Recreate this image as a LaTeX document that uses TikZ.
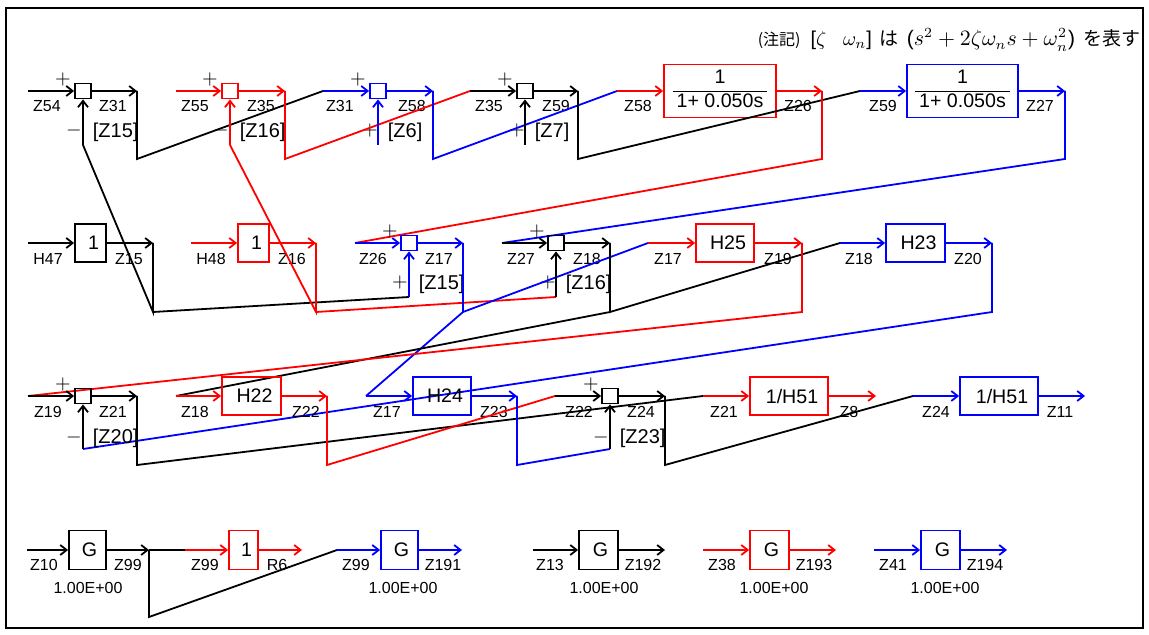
\documentclass[tikz,border=0pt]{standalone}
\usepackage{fontspec}
\setmainfont{Liberation Sans}
\newfontfamily\jpfont{Noto Sans CJK JP}
\usetikzlibrary{arrows.meta}
\definecolor{sigRed}{HTML}{FF0000}
\definecolor{sigBlue}{HTML}{0000FF}

\begin{document}
\begin{tikzpicture}[x=0.5pt,y=-0.5pt,line width=0.9pt,>={Straight Barb[length=3.2pt,width=5pt]},
  lbl/.style={font=\fontsize{8}{9}\selectfont,inner sep=0pt},
  tag/.style={font=\fontsize{10}{11}\selectfont,inner sep=0pt,anchor=west},
  sgn/.style={font=\fontsize{10}{11}\selectfont,inner sep=0pt},
  sumbox/.style={draw,minimum width=8pt,minimum height=7.5pt,inner sep=0pt},
  blk/.style={draw,inner sep=0pt,minimum height=19pt,font=\fontsize{9.8}{11.6}\selectfont},
  gbox/.style={blk,minimum width=18.5pt,minimum height=19.5pt}]
\useasboundingbox (0,0) rectangle (1149,635);
\draw[line width=0.8pt] (6,8) rectangle (1143,628);
% note
\node[anchor=east,inner sep=0pt] (note) at (1141,40) {{\jpfont\fontsize{8}{9}\selectfont (注記)}\hspace{5pt}{\fontsize{10}{11}\selectfont[$\zeta\;\;\;\omega_n$]}\hspace{4pt}{\jpfont\fontsize{9.5}{10}\selectfont は}\hspace{4pt}{\fontsize{10.5}{11}\selectfont($s^2+2\zeta\omega_n s+\omega_n^2$)}\hspace{4pt}{\jpfont\fontsize{9.5}{10}\selectfont を表す}};

% row 1 : summing points and lags
\node[sumbox] (s1) at (83,91) {};
\node[sumbox,draw=sigRed] (s2) at (230,91) {};
\node[sumbox,draw=sigBlue] (s3) at (378,91) {};
\node[sumbox] (s4) at (525,91) {};
\node[blk,draw=sigRed,minimum width=56pt,minimum height=26.5pt] (b1) at (720,91) {\begin{tabular}{@{\hspace{2pt}}c@{\hspace{2pt}}}1\\\hline 1+ 0.050s\end{tabular}};
\node[blk,draw=sigBlue,minimum width=55.5pt,minimum height=26.5pt] (b2) at (962.5,91) {\begin{tabular}{@{\hspace{2pt}}c@{\hspace{2pt}}}1\\\hline 1+ 0.050s\end{tabular}};
\coordinate (z54i) at (28,91);   \coordinate (z31o) at (137,91);  \coordinate (z31b) at (137,159);
\coordinate (z55i) at (176,91);  \coordinate (z35o) at (285,91);  \coordinate (z35b) at (285,159);
\coordinate (z31i) at (323,91);  \coordinate (z58o) at (433,91);  \coordinate (z58b) at (433,159);
\coordinate (z35i) at (470,91);  \coordinate (z59o) at (578,91);  \coordinate (z59b) at (578,159);
\coordinate (z58i) at (617,91);  \coordinate (z26o) at (822,91);  \coordinate (z26b) at (822,159);
\coordinate (z59i) at (860,91);  \coordinate (z27o) at (1065,91); \coordinate (z27b) at (1065,159);
\coordinate (fb1) at (83,145);   \coordinate (fb2) at (230,145);
\coordinate (fb3) at (378,145);  \coordinate (fb4) at (525,145);
\node[lbl] (t1a) at (47,106) {Z54};   \node[lbl] (t1b) at (113,106) {Z31};
\node[lbl] (t1c) at (195,106) {Z55};  \node[lbl] (t1d) at (261,106) {Z35};
\node[lbl] (t1e) at (340,106) {Z31};  \node[lbl] (t1f) at (412,106) {Z58};
\node[lbl] (t1g) at (489,106) {Z35};  \node[lbl] (t1h) at (556,106) {Z59};
\node[lbl] (t1i) at (638,106) {Z58};  \node[lbl] (t1j) at (798,106) {Z26};
\node[lbl] (t1k) at (883,106) {Z59};  \node[lbl] (t1l) at (1040,106) {Z27};
\node[sgn] (p1) at (63,80) {$+$};  \node[sgn] (m1) at (74,131) {$-$};  \node[tag] (g1) at (92,132) {[Z15]};
\node[sgn] (p2) at (210,80) {$+$}; \node[sgn] (m2) at (221,131) {$-$}; \node[tag] (g2) at (239,132) {[Z16]};
\node[sgn] (p3) at (358,80) {$+$}; \node[sgn] (m3) at (370,131) {$+$}; \node[tag] (g3) at (387,132) {[Z6]};
\node[sgn] (p4) at (505,80) {$+$}; \node[sgn] (m4) at (517,131) {$+$}; \node[tag] (g4) at (534,132) {[Z7]};
\draw[->] (z54i) -- (s1);
\draw[->] (s1) -- (z31o);
\draw (z31o) -- (z31b) -- (z31i);
\draw[->] (fb1) -- (s1);
\draw[->,sigRed] (z55i) -- (s2);
\draw[->,sigRed] (s2) -- (z35o);
\draw[sigRed] (z35o) -- (z35b) -- (z35i);
\draw[->,sigRed] (fb2) -- (s2);
\draw[->,sigBlue] (z31i) -- (s3);
\draw[->,sigBlue] (s3) -- (z58o);
\draw[sigBlue] (z58o) -- (z58b) -- (z58i);
\draw[->,sigBlue] (fb3) -- (s3);
\draw[->] (z35i) -- (s4);
\draw[->] (s4) -- (z59o);
\draw (z59o) -- (z59b) -- (z59i);
\draw[->] (fb4) -- (s4);
\draw[->,sigRed] (z58i) -- (b1);
\draw[->,sigRed] (b1) -- (z26o);
\draw[sigRed] (z26o) -- (z26b) -- (355,243);
\draw[->,sigBlue] (z59i) -- (b2);
\draw[->,sigBlue] (b2) -- (z27o);
\draw[sigBlue] (z27o) -- (z27b) -- (502,243);

% row 2
\node[blk,minimum width=15.5pt] (k1) at (90.5,243) {\hspace{3pt}1};
\node[blk,draw=sigRed,minimum width=15.5pt] (k2) at (253.5,243) {\hspace{3pt}1};
\node[sumbox,draw=sigBlue] (s5) at (409,243) {};
\node[sumbox] (s6) at (556,243) {};
\node[blk,draw=sigRed,minimum width=29pt] (h25) at (725,243) {\hspace{3pt}H25};
\node[blk,draw=sigBlue,minimum width=29.5pt] (h23) at (915.5,243) {\hspace{3pt}H23};
\coordinate (h47i) at (28,243);  \coordinate (z15o) at (153,243); \coordinate (z15b) at (153,312);
\coordinate (h48i) at (191,243); \coordinate (z16o) at (316,243); \coordinate (z16b) at (316,312);
\coordinate (z26i) at (355,243); \coordinate (z17o) at (463,243); \coordinate (z17b) at (463,312);
\coordinate (z27i) at (502,243); \coordinate (z18o) at (610,243); \coordinate (z18b) at (610,312);
\coordinate (z17i) at (648,243); \coordinate (z19o) at (802,243); \coordinate (z19b) at (802,312);
\coordinate (z18i) at (840,243); \coordinate (z20o) at (992,243); \coordinate (z20b) at (992,312);
\coordinate (fb5) at (409,297);  \coordinate (fb6) at (556,297);
\node[lbl] (t2a) at (48,259) {H47};   \node[lbl] (t2b) at (129,259) {Z15};
\node[lbl] (t2c) at (211,259) {H48};  \node[lbl] (t2d) at (292,259) {Z16};
\node[lbl] (t2e) at (373,259) {Z26};  \node[lbl] (t2f) at (439,259) {Z17};
\node[lbl] (t2g) at (521,259) {Z27};  \node[lbl] (t2h) at (587,259) {Z18};
\node[lbl] (t2i) at (668,259) {Z17};  \node[lbl] (t2j) at (778,259) {Z19};
\node[lbl] (t2k) at (859,259) {Z18};  \node[lbl] (t2l) at (968,259) {Z20};
\node[sgn] (p5) at (390,232) {$+$}; \node[sgn] (m5) at (400,283) {$+$}; \node[tag] (g5) at (418,284) {[Z15]};
\node[sgn] (p6) at (537,232) {$+$}; \node[sgn] (m6) at (548,283) {$+$}; \node[tag] (g6) at (565,284) {[Z16]};
\draw[->] (h47i) -- (k1);
\draw[->] (k1) -- (z15o);
\draw (z15o) -- (z15b) -- (fb1);
\draw (z15b) -- (fb5);
\draw[->,sigRed] (h48i) -- (k2);
\draw[->,sigRed] (k2) -- (z16o);
\draw[sigRed] (z16o) -- (z16b) -- (fb2);
\draw[sigRed] (z16b) -- (fb6);
\draw[->,sigBlue] (z26i) -- (s5);
\draw[->,sigBlue] (s5) -- (z17o);
\draw[sigBlue] (z17o) -- (z17b) -- (z17i);
\draw[sigBlue] (z17b) -- (366,396);
\draw[->,sigBlue] (fb5) -- (s5);
\draw[->] (z27i) -- (s6);
\draw[->] (s6) -- (z18o);
\draw (z18o) -- (z18b) -- (z18i);
\draw (z18b) -- (176,396);
\draw[->] (fb6) -- (s6);
\draw[->,sigRed] (z17i) -- (h25);
\draw[->,sigRed] (h25) -- (z19o);
\draw[sigRed] (z19o) -- (z19b) -- (28,396);
\draw[->,sigBlue] (z18i) -- (h23);
\draw[->,sigBlue] (h23) -- (z20o);
\draw[sigBlue] (z20o) -- (z20b) -- (83,449);

% row 3
\node[sumbox] (s7) at (83,396) {};
\node[blk,draw=sigRed,minimum width=29.5pt] (h22) at (251.5,396) {\hspace{3pt}H22};
\node[blk,draw=sigBlue,minimum width=29pt] (h24) at (442,396) {\hspace{3pt}H24};
\node[sumbox] (s8) at (610,396) {};
\node[blk,draw=sigRed,minimum width=39pt] (r1) at (789,396) {\hspace{3pt}1/H51};
\node[blk,draw=sigBlue,minimum width=39pt] (r2) at (999,396) {\hspace{3pt}1/H51};
\coordinate (z19i) at (28,396);  \coordinate (z21o) at (137,396); \coordinate (z21b) at (137,465);
\coordinate (z18j) at (176,396); \coordinate (z22o) at (327,396); \coordinate (z22b) at (327,465);
\coordinate (z17j) at (366,396); \coordinate (z23o) at (517,396); \coordinate (z23b) at (517,465);
\coordinate (z22i) at (555,396); \coordinate (z24o) at (665,396); \coordinate (z24b) at (665,465);
\coordinate (z21i) at (703,396); \coordinate (z8o) at (876,396);
\coordinate (z24i) at (913,396); \coordinate (z11o) at (1085,396);
\coordinate (fb7) at (83,449);   \coordinate (fb8) at (610,449);
\node[lbl] (t3a) at (48,412) {Z19};   \node[lbl] (t3b) at (113,412) {Z21};
\node[lbl] (t3c) at (195,412) {Z18};  \node[lbl] (t3d) at (306,412) {Z22};
\node[lbl] (t3e) at (387,412) {Z17};  \node[lbl] (t3f) at (494,412) {Z23};
\node[lbl] (t3g) at (579,412) {Z22};  \node[lbl] (t3h) at (641,412) {Z24};
\node[lbl] (t3i) at (724,412) {Z21};  \node[lbl] (t3j) at (849,412) {Z8};
\node[lbl] (t3k) at (936,412) {Z24};  \node[lbl] (t3l) at (1060,412) {Z11};
\node[sgn] (p7) at (63,385) {$+$};  \node[sgn] (m7) at (74,437) {$-$};  \node[tag] (g7) at (92,438) {[Z20]};
\node[sgn] (p8) at (591,385) {$+$}; \node[sgn] (m8) at (601,437) {$-$}; \node[tag] (g8) at (619,438) {[Z23]};
\draw[->] (z19i) -- (s7);
\draw[->] (s7) -- (z21o);
\draw (z21o) -- (z21b) -- (z21i);
\draw[->] (fb7) -- (s7);
\draw[->,sigRed] (z18j) -- (h22);
\draw[->,sigRed] (h22) -- (z22o);
\draw[sigRed] (z22o) -- (z22b) -- (z22i);
\draw[->,sigBlue] (z17j) -- (h24);
\draw[->,sigBlue] (h24) -- (z23o);
\draw[sigBlue] (z23o) -- (z23b) -- (fb8);
\draw[->] (z22i) -- (s8);
\draw[->] (s8) -- (z24o);
\draw (z24o) -- (z24b) -- (z24i);
\draw[->] (fb8) -- (s8);
\draw[->,sigRed] (z21i) -- (r1);
\draw[->,sigRed] (r1) -- (z8o);
\draw[->,sigBlue] (z24i) -- (r2);
\draw[->,sigBlue] (r2) -- (z11o);

% row 4 : gains
\node[gbox] (q1) at (87.5,550) {\hspace{2pt}G};
\node[gbox,draw=sigRed,minimum width=14.5pt] (u1) at (243.5,550) {\hspace{3pt}1};
\node[gbox,draw=sigBlue] (q2) at (399.5,550) {\hspace{2pt}G};
\node[gbox,minimum width=19.5pt] (q3) at (598.5,550) {\hspace{2pt}G};
\node[gbox,draw=sigRed,minimum width=19.5pt] (q4) at (769.5,550) {\hspace{2pt}G};
\node[gbox,draw=sigBlue,minimum width=19.5pt] (q5) at (940.5,550) {\hspace{2pt}G};
\coordinate (z10i) at (27,550);  \coordinate (z99o) at (149,550); \coordinate (z99b) at (149,617);
\coordinate (z99i) at (185,550); \coordinate (r6o) at (302,550);
\coordinate (z99j) at (337,550); \coordinate (z191o) at (462,550);
\coordinate (z13i) at (533,550); \coordinate (z192o) at (665,550);
\coordinate (z38i) at (703,550); \coordinate (z193o) at (836,550);
\coordinate (z41i) at (874,550); \coordinate (z194o) at (1007,550);
\node[lbl] (t4a) at (44,565) {Z10};   \node[lbl] (t4b) at (128,565) {Z99};
\node[lbl] (t4c) at (205,565) {Z99};  \node[lbl] (t4d) at (277,565) {R6};
\node[lbl] (t4e) at (356,565) {Z99};  \node[lbl] (t4f) at (443,565) {Z191};
\node[lbl] (t4g) at (550,565) {Z13};  \node[lbl] (t4h) at (643,565) {Z192};
\node[lbl] (t4i) at (722,565) {Z38};  \node[lbl] (t4j) at (814,565) {Z193};
\node[lbl] (t4k) at (893,565) {Z41};  \node[lbl] (t4l) at (985,565) {Z194};
\node[lbl] (v1) at (88,588) {1.00E+00};
\node[lbl] (v2) at (403,588) {1.00E+00};
\node[lbl] (v3) at (604,588) {1.00E+00};
\node[lbl] (v4) at (774,588) {1.00E+00};
\node[lbl] (v5) at (945,588) {1.00E+00};
\draw[->] (z10i) -- (q1);
\draw[->] (q1) -- (z99o);
\draw (z99o) -- (z99i);
\draw (z99o) -- (z99b) -- (z99j);
\draw[->,sigRed] (z99i) -- (u1);
\draw[->,sigRed] (u1) -- (r6o);
\draw[->,sigBlue] (z99j) -- (q2);
\draw[->,sigBlue] (q2) -- (z191o);
\draw[->] (z13i) -- (q3);
\draw[->] (q3) -- (z192o);
\draw[->,sigRed] (z38i) -- (q4);
\draw[->,sigRed] (q4) -- (z193o);
\draw[->,sigBlue] (z41i) -- (q5);
\draw[->,sigBlue] (q5) -- (z194o);
\end{tikzpicture}
\end{document}
